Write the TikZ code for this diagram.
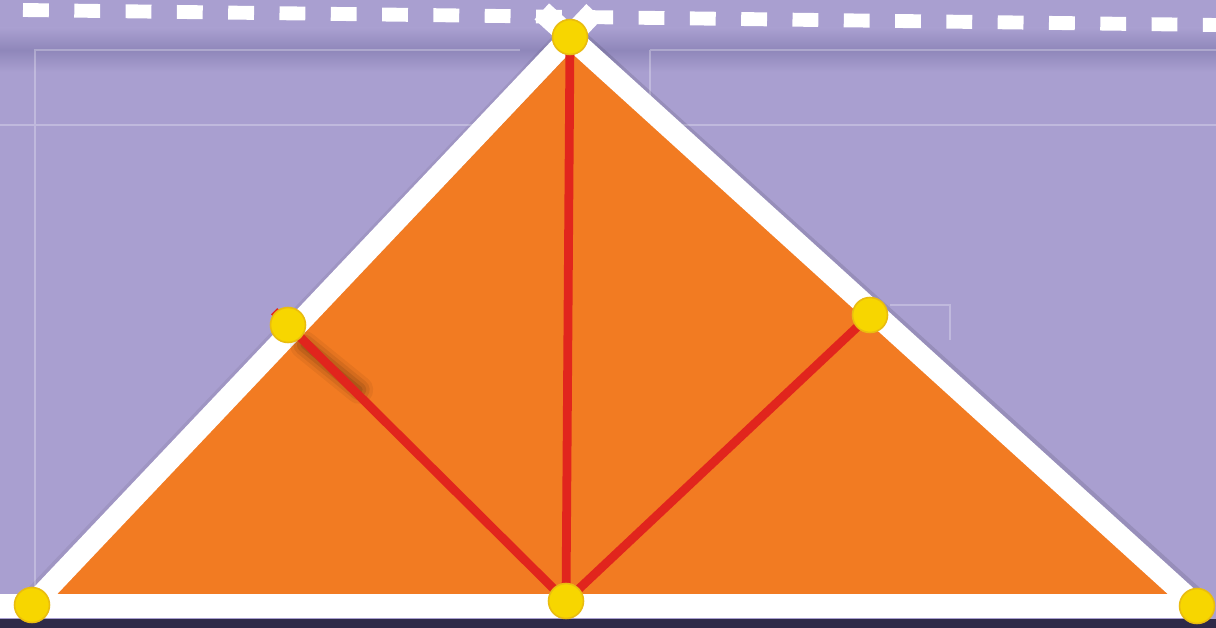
\documentclass[tikz,border=0pt]{standalone}
\usepackage{xcolor}
\usetikzlibrary{calc}
\definecolor{bgP}{HTML}{A99FD0}
\definecolor{bgPdk}{HTML}{8F87BA}
\definecolor{triO}{HTML}{F27B22}
\definecolor{legR}{HTML}{E1251D}
\definecolor{dotY}{HTML}{F7D600}
\definecolor{dotYrim}{HTML}{E9BC10}
\definecolor{baseN}{HTML}{2E2A48}

\tikzset{
  edgeW/.style={white, line width=12.3pt, line cap=butt},
  edgeShade/.style={black, opacity=0.10, line width=14pt},
  legline/.style={legR, line width=5pt},
  vdot/.style={circle, fill=dotY, draw=dotYrim, line width=0.9pt,
    minimum size=0.7cm, inner sep=0pt},
}

\begin{document}
\begin{tikzpicture}[x=0.02cm, y=-0.02cm]
  \path[use as bounding box] (0,0) rectangle (1216,628);
  \fill[bgP] (0,0) rectangle (1216,628);

  % soft shadow band under the dashes
  \shade[top color=bgP, bottom color=bgP, middle color=bgPdk] (0,28) rectangle (1216,72);

  % faint guide lines of the backdrop
  \draw[white, opacity=0.28, line width=0.6pt]
    (35,628) -- (35,50) -- (520,50)
    (650,50) -- (1216,50)
    (0,125) -- (1216,125)
    (650,50) -- (650,125)
    (890,305) -- (950,305) -- (950,340);

  % dark strip at the foot
  \fill[baseN] (0,619) rectangle (1216,628);

  % dashed top line
  \draw[white, line width=7.9pt, dash pattern=on 14.7pt off 14.5pt]
    (23,10) -- (1216,25);

  % corner and side points
  \coordinate (A) at (570,37);
  \coordinate (BL) at (32,605);
  \coordinate (M) at (566,601);
  \coordinate (BR) at (1197,606);
  \coordinate (L) at (288,325);
  \coordinate (R) at (870,315);

  % triangle body
  \fill[triO] (BL) -- (A) -- (BR) -- cycle;

  % drop shadow on the outer side of the edges
  \draw[edgeShade] ($(A)+(9,6)$) -- ($(BR)+(9,4)$);
  \draw[edgeShade, opacity=0.06] ($(BL)+(-7,4)$) -- ($(A)+(-7,6)$);

  % white edges, slightly crossing above the apex
  \draw[edgeW] (BL) -- ($(BL)!1.045!(A)$);
  \draw[edgeW] (BR) -- ($(BR)!1.045!(A)$);
  \draw[white, line width=14pt] (0,606) -- (BR);

  % blurred shadow next to the left leg
  \foreach \w/\o in {16pt/0.05, 12pt/0.07, 8pt/0.09, 4pt/0.10}{
    \draw[black, opacity=\o, line width=\w, line cap=round]
      ($(L)+(16,20)$) -- ($(L)!0.22!(M)+(10,4)$);
  }

  % red legs
  \draw[legline] (M) -- (A);
  \draw[legline] (M) -- ($(M)!1.05!(L)$);
  \draw[legline] (M) -- (R);

  % yellow points
  \foreach \p in {A, BL, M, BR, L, R}{
    \node[vdot] (d\p) at (\p) {};
  }
\end{tikzpicture}
\end{document}
